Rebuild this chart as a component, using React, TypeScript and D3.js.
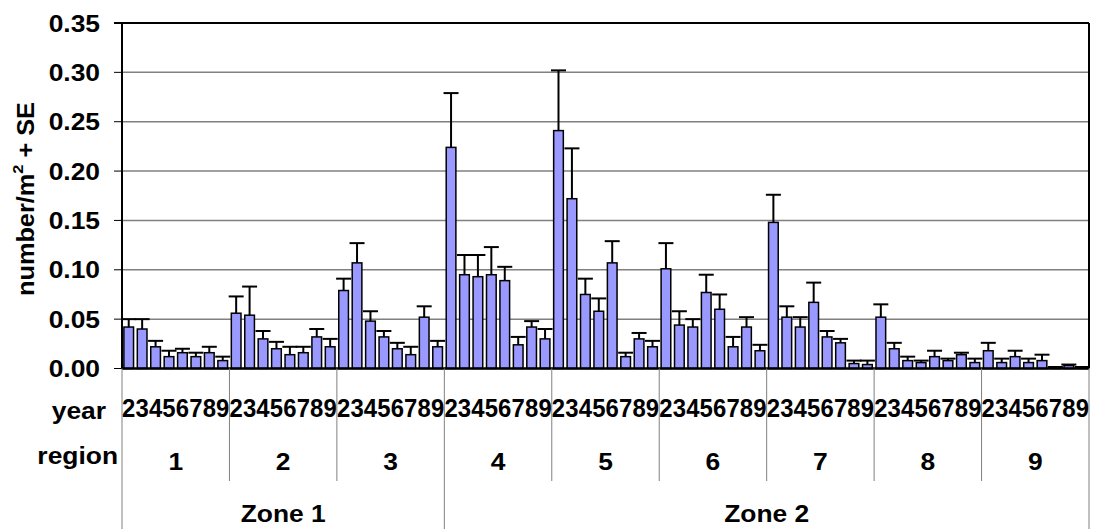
import React from "react";
import * as d3 from "d3";

const regions = ["1", "2", "3", "4", "5", "6", "7", "8", "9"];
const years = ["2", "3", "4", "5", "6", "7", "8", "9"];
const zoneNames = ["Zone 1", "Zone 2"];
const zoneRegions = [["1", "2", "3"], ["4", "5", "6", "7", "8", "9"]];
const yTicks = [0, 0.05, 0.1, 0.15, 0.2, 0.25, 0.3, 0.35];

// mean number/m2 per region (rows) and year 2..9 (columns)
const means = [
  [0.042, 0.040, 0.022, 0.012, 0.016, 0.012, 0.016, 0.008],
  [0.056, 0.054, 0.030, 0.020, 0.014, 0.016, 0.032, 0.022],
  [0.079, 0.107, 0.048, 0.032, 0.020, 0.014, 0.052, 0.022],
  [0.224, 0.095, 0.093, 0.095, 0.089, 0.024, 0.042, 0.030],
  [0.241, 0.172, 0.075, 0.058, 0.107, 0.012, 0.030, 0.022],
  [0.101, 0.044, 0.042, 0.077, 0.060, 0.022, 0.042, 0.018],
  [0.148, 0.052, 0.042, 0.067, 0.032, 0.026, 0.005, 0.004],
  [0.052, 0.020, 0.008, 0.006, 0.012, 0.008, 0.014, 0.006],
  [0.018, 0.006, 0.012, 0.006, 0.008, 0.001, 0.003, 0.001],
];
// standard errors
const ses = [
  [0.008, 0.010, 0.006, 0.006, 0.004, 0.004, 0.006, 0.004],
  [0.017, 0.029, 0.008, 0.007, 0.008, 0.006, 0.008, 0.008],
  [0.012, 0.020, 0.010, 0.006, 0.006, 0.008, 0.011, 0.006],
  [0.055, 0.020, 0.022, 0.028, 0.014, 0.008, 0.006, 0.010],
  [0.061, 0.051, 0.016, 0.013, 0.022, 0.004, 0.006, 0.006],
  [0.026, 0.014, 0.008, 0.018, 0.015, 0.010, 0.010, 0.006],
  [0.028, 0.011, 0.010, 0.020, 0.006, 0.004, 0.003, 0.004],
  [0.013, 0.006, 0.004, 0.002, 0.006, 0.002, 0.002, 0.004],
  [0.008, 0.004, 0.006, 0.004, 0.006, 0.0005, 0.001, 0.0005],
];

const W = 1093;
const H = 529;
const PL = 122;
const PR = 1089;
const PT = 23;
const PB = 368.5;
const FONT = "'Liberation Sans', Arial, sans-serif";
const SX = 1.1;

function Label(props: {
  x: number;
  y: number;
  anchor?: string;
  size?: number;
  bold?: boolean;
  dy?: string;
  children: React.ReactNode;
}) {
  const { x, y, anchor = "middle", size = 24, bold = true, dy, children } = props;
  return (
    <text
      transform={`translate(${x},${y}) scale(${SX},1)`}
      textAnchor={anchor}
      fontSize={size}
      fontWeight={bold ? "bold" : "normal"}
      dy={dy}
    >
      {children}
    </text>
  );
}

export default function App() {
  const x0 = d3.scaleBand().domain(regions).range([PL, PR]).padding(0);
  const x1 = d3
    .scaleBand()
    .domain(years)
    .range([0, x0.bandwidth()])
    .paddingInner(0.28)
    .paddingOuter(0.14);
  const y = d3.scaleLinear().domain([0, 0.35]).range([PB, PT]);
  const capW = 15;
  const bw = x1.bandwidth();
  const slot = x1.step();

  return (
    <svg
      width={W}
      height={H}
      style={{ position: "absolute", left: 0, top: 0, background: "#fff" }}
      fontFamily={FONT}
    >
      <rect x={0} y={0} width={W} height={H} fill="#fff" />
      {/* gridlines */}
      {yTicks
        .filter((t) => t > 0 && t < 0.35)
        .map((t) => (
          <line key={"g" + t} x1={PL} x2={PR} y1={y(t)} y2={y(t)} stroke="#808080" strokeWidth={1.5} />
        ))}
      {/* tick marks */}
      {yTicks.map((t) => (
        <line key={"t" + t} x1={114} x2={PL} y1={y(t)} y2={y(t)} stroke="#000" strokeWidth={1} />
      ))}
      {/* tick labels */}
      {yTicks.map((t) => (
        <Label key={"l" + t} x={100} y={y(t)} dy="0.36em" anchor="end">
          {d3.format(".2f")(t)}
        </Label>
      ))}
      {/* bars */}
      {regions.map((r, ri) =>
        years.map((yr, yi) => {
          const bx = (x0(r) as number) + (x1(yr) as number);
          const v = means[ri][yi];
          return (
            <rect
              key={"b" + r + yr}
              x={bx}
              y={y(v)}
              width={bw}
              height={PB - y(v)}
              fill="#9999FF"
              stroke="#000"
              strokeWidth={1.5}
            />
          );
        })
      )}
      {/* error bars */}
      {regions.map((r, ri) =>
        years.map((yr, yi) => {
          const cx = (x0(r) as number) + (x1(yr) as number) + bw / 2;
          const v = means[ri][yi];
          const hi = v + ses[ri][yi];
          return (
            <g key={"e" + r + yr} stroke="#000" strokeWidth={2}>
              <line x1={cx} x2={cx} y1={y(v)} y2={y(hi)} />
              <line x1={cx - capW / 2} x2={cx + capW / 2} y1={y(hi)} y2={y(hi)} />
            </g>
          );
        })
      )}
      {/* plot frame */}
      <line x1={114} x2={PR} y1={PT} y2={PT} stroke="#000" strokeWidth={2} />
      <line x1={PR} x2={PR} y1={PT} y2={PB} stroke="#000" strokeWidth={2} />
      <line x1={PL} x2={PL} y1={PT} y2={PB} stroke="#000" strokeWidth={2} />
      <line x1={PL} x2={PR} y1={PB} y2={PB} stroke="#000" strokeWidth={2.5} />
      {/* category label grid */}
      {regions.slice(1).map((r) => {
        const isZone = zoneRegions.some((z) => z[0] === r);
        return (
          <line
            key={"d" + r}
            x1={x0(r) as number}
            x2={x0(r) as number}
            y1={PB}
            y2={isZone ? H : 481}
            stroke="#808080"
            strokeWidth={1}
          />
        );
      })}
      <line x1={PL} x2={PL} y1={PB} y2={H} stroke="#808080" strokeWidth={1} />
      <line x1={PR} x2={PR} y1={PB} y2={H} stroke="#808080" strokeWidth={1} />
      {/* year row */}
      <Label x={106} y={419} anchor="end">
        year
      </Label>
      {regions.map((r) =>
        years.map((yr) => (
          <text
            key={"y" + r + yr}
            x={(x0(r) as number) + (x1(yr) as number) + bw / 2}
            y={416.5}
            textAnchor="middle"
            fontSize={26}
            fontWeight="bold"
            textLength={slot * 0.99}
            lengthAdjust="spacingAndGlyphs"
          >
            {yr}
          </text>
        ))
      )}
      {/* region row */}
      <Label x={118} y={464} anchor="end">
        region
      </Label>
      {regions.map((r) => (
        <Label key={"r" + r} x={(x0(r) as number) + x0.bandwidth() / 2} y={469.5}>
          {r}
        </Label>
      ))}
      {/* zone row */}
      {zoneNames.map((z, zi) => {
        const rs = zoneRegions[zi];
        const a = x0(rs[0]) as number;
        const b = (x0(rs[rs.length - 1]) as number) + x0.bandwidth();
        return (
          <Label key={z} x={(a + b) / 2} y={521.5}>
            {z}
          </Label>
        );
      })}
      {/* y axis title */}
      <text
        transform="translate(34,199) rotate(-90) scale(1.1,1)"
        textAnchor="middle"
        fontSize={23}
        fontWeight="bold"
      >
        number/m
        <tspan fontSize={15} dy={-11}>
          2
        </tspan>
        <tspan dy={11}>{" + SE"}</tspan>
      </text>
    </svg>
  );
}
